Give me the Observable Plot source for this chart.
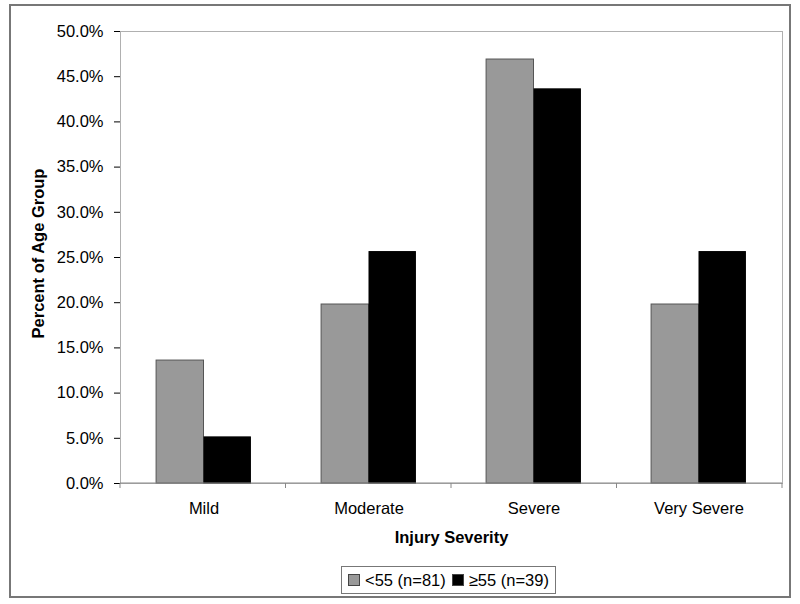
<!DOCTYPE html>
<html>
<head>
<meta charset="utf-8">
<script src="https://cdn.jsdelivr.net/npm/d3@7"></script>
<script src="https://cdn.jsdelivr.net/npm/@observablehq/plot@0.6"></script>
<style>
  html, body { margin: 0; padding: 0; background: #fff; }
  body { width: 800px; height: 604px; position: relative; font-family: "Liberation Sans", Arial, sans-serif; }
  #frame { position: absolute; left: 9px; top: 4px; width: 778px; height: 590px; border: 2px solid #777; background: #fff; }
  #legend { position: absolute; left: 330px; top: 560px; height: 26px; border: 1.5px solid #777; display: flex; align-items: center; padding: 0 6px; font-size: 16.5px; color: #000; white-space: nowrap; }
  #legend .sw { display: inline-block; width: 10px; height: 10px; border: 1px solid #444; margin-right: 5px; }
  #legend .item { display: inline-flex; align-items: center; margin-right: 6px; }
  #legend .item:last-child { margin-right: 0; }
  svg g[aria-label="y-axis"] line, svg g[aria-label="y-axis"] path { stroke: #888; }
</style>
</head>
<body>
<div id="frame">
  <div id="chart"></div>
  <div id="legend"></div>
</div>
<script>
const categories = ["Mild", "Moderate", "Severe", "Very Severe"];
const seriesNames = ["<55 (n=81)", "\u226555 (n=39)"];
const under55 = [0.136, 0.198, 0.469, 0.198];
const over55 = [0.051, 0.256, 0.436, 0.256];
const yTicks = [0, 0.05, 0.10, 0.15, 0.20, 0.25, 0.30, 0.35, 0.40, 0.45, 0.50];
const colors = ["#999999", "#000000"];

const dataA = categories.map((c, i) => ({category: c, value: under55[i]}));
const dataB = categories.map((c, i) => ({category: c, value: over55[i]}));

const W = 778, H = 548;
const mL = 109, mR = 7, mT = 25, mB = 71;
const bw = (W - mL - mR) / categories.length;
// bar layout within each band (fractions of band width)
const gL = bw * 0.212, gM = bw * 0.5015, gR = bw * 0.785;

const boundaryTicks = (index, scales, values, dims) => {
  const g = d3.create("svg:g");
  const x0 = dims.marginLeft, x1 = dims.width - dims.marginRight;
  const yb = dims.height - dims.marginBottom;
  const n = categories.length;
  g.append("line").attr("x1", x0).attr("x2", x1).attr("y1", yb).attr("y2", yb)
    .attr("stroke", "#888").attr("stroke-width", 1);
  for (let i = 0; i <= n; i++) {
    const x = x0 + (x1 - x0) * i / n;
    g.append("line").attr("x1", x).attr("x2", x).attr("y1", yb).attr("y2", yb + 5)
      .attr("stroke", "#888").attr("stroke-width", 1);
  }
  return g.node();
};

const chart = Plot.plot({
  width: W,
  height: H,
  marginLeft: mL,
  marginRight: mR,
  marginTop: mT,
  marginBottom: mB,
  style: {fontSize: "16.5px", fontFamily: "'Liberation Sans', Arial, sans-serif", color: "#000", background: "#fff"},
  x: {domain: categories, padding: 0, label: null, tickSize: 0, tickPadding: 19},
  y: {domain: [0, 0.5], ticks: yTicks, tickFormat: d3.format(".1%"), label: null, tickSize: 6, tickPadding: 11, line: true},
  marks: [
    Plot.frame({stroke: "#b0b0b0"}),
    Plot.barY(dataA, {x: "category", y: "value", fill: colors[0], stroke: "#555", strokeWidth: 1, insetLeft: gL, insetRight: bw - gM}),
    Plot.barY(dataB, {x: "category", y: "value", fill: colors[1], stroke: "#000", strokeWidth: 1, insetLeft: gM, insetRight: bw - gR}),
    boundaryTicks,
    Plot.text(["Injury Severity"], {frameAnchor: "bottom", dy: 59, fontWeight: "bold", fontSize: 16.5}),
    Plot.text(["Percent of Age Group"], {frameAnchor: "left", dx: -82, dy: -4, rotate: -90, textAnchor: "middle", fontWeight: "bold", fontSize: 16.5})
  ]
});
document.getElementById("chart").appendChild(chart);

const legend = document.getElementById("legend");
seriesNames.forEach((name, i) => {
  const item = document.createElement("span");
  item.className = "item";
  const sw = document.createElement("span");
  sw.className = "sw";
  sw.style.background = colors[i];
  item.appendChild(sw);
  item.appendChild(document.createTextNode(name));
  legend.appendChild(item);
});
</script>
</body>
</html>
